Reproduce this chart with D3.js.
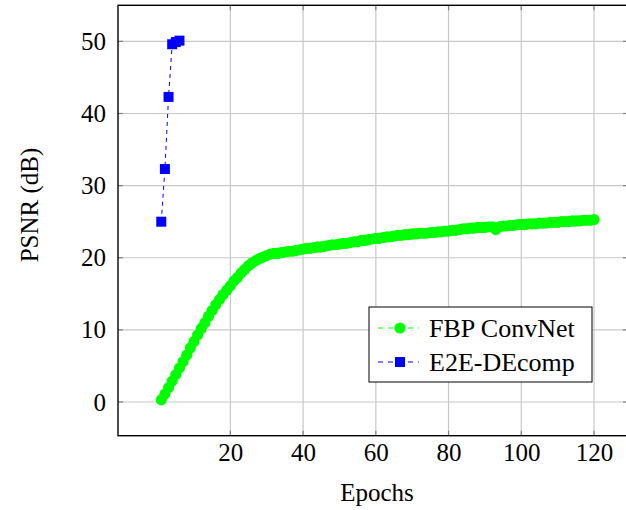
<!DOCTYPE html>
<html><head><meta charset="utf-8">
<script src="https://cdn.jsdelivr.net/npm/d3@7"></script>
<style>
html,body{margin:0;padding:0;background:#fff;}
svg{display:block;}
</style></head>
<body>
<svg id="chart" width="626" height="510"></svg>
<script>
const fbpEpochs = d3.range(1, 121);
const fbpPSNR = [0.3,1.1,2.0,2.9,3.8,4.7,5.6,6.5,7.5,8.4,
9.3,10.2,11.0,11.9,12.7,13.5,14.2,14.9,15.5,16.1,
16.8,17.3,17.9,18.4,18.9,19.3,19.6,19.9,20.1,20.3,
20.5,20.6,20.6,20.7,20.8,20.9,20.9,21.0,21.1,21.2,
21.3,21.3,21.4,21.5,21.5,21.6,21.7,21.8,21.8,21.9,
22.0,22.0,22.1,22.2,22.2,22.4,22.4,22.5,22.6,22.7,
22.7,22.8,22.9,22.9,23.0,23.1,23.1,23.2,23.2,23.3,
23.3,23.4,23.4,23.4,23.5,23.5,23.6,23.6,23.7,23.7,
23.8,23.8,23.9,24.0,24.0,24.1,24.1,24.2,24.2,24.2,
24.3,24.3,23.9,24.3,24.4,24.4,24.5,24.5,24.6,24.6,
24.6,24.7,24.7,24.7,24.8,24.8,24.8,24.9,24.9,24.9,
25.0,25.0,25.0,25.1,25.1,25.1,25.2,25.2,25.2,25.3];
const e2eEpochs = [1,2,3,4,5,6];
const e2ePSNR = [25.0,32.3,42.3,49.6,49.9,50.1];
const xTicks = [20,40,60,80,100,120];
const yTicks = [0,10,20,30,40,50];
const seriesNames = ["FBP ConvNet","E2E-DEcomp"];

const FONT = '"Liberation Serif"';
const FS = "25px";
const svg = d3.select("#chart");
const L=118, R=628, T=5.3, B=435.7;
const x = d3.scaleLinear().domain([-10.9,129.35]).range([L,R]);
const y = d3.scaleLinear().domain([-4.67,55]).range([B,T]);

// grid
const g = svg.append("g");
g.selectAll(".gx").data(xTicks).enter().append("line")
 .attr("x1",d=>x(d)).attr("x2",d=>x(d)).attr("y1",T).attr("y2",B)
 .attr("stroke","#c8c8c8").attr("stroke-width",1.2);
g.selectAll(".gy").data(yTicks).enter().append("line")
 .attr("x1",L).attr("x2",R).attr("y1",d=>y(d)).attr("y2",d=>y(d))
 .attr("stroke","#c8c8c8").attr("stroke-width",1.2);

// ticks (inward, all sides)
const tl=5, tc="#808080";
xTicks.forEach(d=>{
  g.append("line").attr("x1",x(d)).attr("x2",x(d)).attr("y1",B).attr("y2",B-tl).attr("stroke",tc).attr("stroke-width",1.2);
  g.append("line").attr("x1",x(d)).attr("x2",x(d)).attr("y1",T).attr("y2",T+tl).attr("stroke",tc).attr("stroke-width",1.2);
});
yTicks.forEach(d=>{
  g.append("line").attr("x1",L).attr("x2",L+tl).attr("y1",y(d)).attr("y2",y(d)).attr("stroke",tc).attr("stroke-width",1.2);
  g.append("line").attr("x1",R).attr("x2",R-tl).attr("y1",y(d)).attr("y2",y(d)).attr("stroke",tc).attr("stroke-width",1.2);
});

// axes labels via d3 axis
const xAxis = d3.axisBottom(x).tickValues(xTicks).tickSize(0).tickPadding(8);
const yAxis = d3.axisLeft(y).tickValues(yTicks).tickSize(0).tickPadding(12);
const gx = svg.append("g").attr("transform",`translate(0,${B})`).call(xAxis);
const gy = svg.append("g").attr("transform",`translate(${L},0)`).call(yAxis);
[gx,gy].forEach(a=>{a.select(".domain").remove();
  a.attr("font-family",null).attr("font-size",null);
  a.selectAll("text").style("font-family",FONT).style("font-size",FS).attr("fill","#000");});

// frame
svg.append("rect").attr("x",L).attr("y",T).attr("width",R-L).attr("height",B-T)
 .attr("fill","none").attr("stroke","#000").attr("stroke-width",1.4);

// FBP series
const fbp = fbpEpochs.map((e,i)=>[e,fbpPSNR[i]]);
const line = d3.line().x(d=>x(d[0])).y(d=>y(d[1]));
svg.append("path").datum(fbp).attr("d",line).attr("fill","none")
 .attr("stroke","#00ff00").attr("stroke-width",1).attr("stroke-dasharray","3,3");
svg.selectAll(".fbp").data(fbp).enter().append("circle")
 .attr("cx",d=>x(d[0])).attr("cy",d=>y(d[1])).attr("r",5.6).attr("fill","#00ff00");

// E2E series
const e2e = e2eEpochs.map((e,i)=>[e,e2ePSNR[i]]);
svg.append("path").datum(e2e).attr("d",line).attr("fill","none")
 .attr("stroke","#0000ff").attr("stroke-width",1).attr("stroke-dasharray","4,4");
const s=10;
svg.selectAll(".e2e").data(e2e).enter().append("rect")
 .attr("x",d=>x(d[0])-s/2).attr("y",d=>y(d[1])-s/2).attr("width",s).attr("height",s).attr("fill","#0000ff");

// axis titles
svg.append("text").attr("x",377).attr("y",501).attr("text-anchor","middle")
 .style("font-family",FONT).style("font-size",FS).text("Epochs");
svg.append("text").attr("transform","translate(38,205) rotate(-90)").attr("text-anchor","middle")
 .style("font-family",FONT).style("font-size",FS).text("PSNR (dB)");

// legend
const lg = svg.append("g");
lg.append("rect").attr("x",369).attr("y",307).attr("width",223).attr("height",75)
 .attr("fill","#fff").attr("stroke","#000").attr("stroke-width",1);
const colors=["#00ff00","#0000ff"];
seriesNames.forEach((n,i)=>{
  const cy = 328 + i*34;
  lg.append("line").attr("x1",378).attr("x2",419).attr("y1",cy).attr("y2",cy)
    .attr("stroke",colors[i]).attr("stroke-width",1).attr("stroke-dasharray","5,5");
  if(i===0) lg.append("circle").attr("cx",400).attr("cy",cy).attr("r",5.6).attr("fill",colors[i]);
  else lg.append("rect").attr("x",395).attr("y",cy-5).attr("width",10).attr("height",10).attr("fill",colors[i]);
  lg.append("text").attr("x",429).attr("y",cy+9)
    .style("font-family",FONT).style("font-size","26px").text(n);
});
</script>
</body></html>
